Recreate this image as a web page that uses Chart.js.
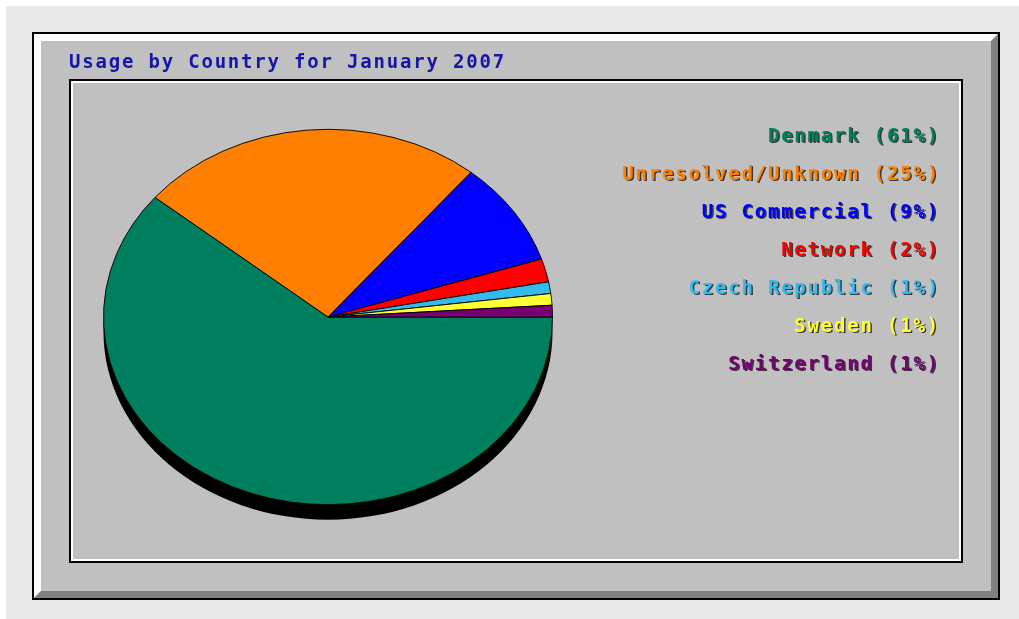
<!DOCTYPE html>
<html>
<head>
<meta charset="utf-8">
<title>Usage by Country for January 2007</title>
<script src="https://cdn.jsdelivr.net/npm/chart.js@4.4.1/dist/chart.umd.min.js"></script>
<style>
    html, body { margin: 0; padding: 0; background: #fff; }
    canvas { display: block; }
</style>
</head>
<body>
<canvas id="countryChart" width="1019" height="619"></canvas>
<script>
// Chart data
const chartTitle = 'Usage by Country for January 2007';
const countries = ['Denmark', 'Unresolved/Unknown', 'US Commercial', 'Network', 'Czech Republic', 'Sweden', 'Switzerland'];
const percents = [61, 25, 9, 2, 1, 1, 1];
const sliceColors = ['#007f5f', '#ff8000', '#0000ff', '#ff0000', '#33bbee', '#ffff33', '#770077'];

// Look & feel
const FONT = 'DejaVu Sans Mono';
const SQUASH = 0.836;     // the pie is drawn flattened into an ellipse
const DEPTH = 15;         // black 3d edge under the pie
const SPACING = '1.8px';  // wide bitmap-like lettering

function fillPoly(ctx, pts, color) {
    ctx.fillStyle = color;
    ctx.beginPath();
    pts.forEach(([x, y], i) => i ? ctx.lineTo(x, y) : ctx.moveTo(x, y));
    ctx.closePath();
    ctx.fill();
}

// Webalizer style panel, flattened pie with a 3d edge
const webalizerPlugin = {
    id: 'webalizer',
    afterInit(chart) {
        // legend text gets a dark drop shadow, the title does not
        const legend = chart.legend;
        const drawLegend = legend.draw.bind(legend);
        legend.draw = (area) => {
            const ctx = chart.ctx;
            ctx.save();
            ctx.shadowColor = 'rgba(0, 0, 0, 0.7)';
            ctx.shadowOffsetX = 1.5;
            ctx.shadowOffsetY = 1.5;
            ctx.shadowBlur = 0;
            drawLegend(area);
            ctx.restore();
        };
    },
    beforeUpdate(chart) {
        chart.ctx.letterSpacing = SPACING;
    },
    beforeDraw(chart) {
        const { ctx, width, height } = chart;
        ctx.save();
        ctx.fillStyle = '#fff';
        ctx.fillRect(0, 0, width, height);
        ctx.fillStyle = '#e9e9e9';
        ctx.fillRect(6, 6, width - 6, height - 6);

        // outer raised panel
        const x1 = 33, y1 = 33, x2 = 999, y2 = 599, b = 8;
        ctx.fillStyle = '#c0c0c0';
        ctx.fillRect(x1, y1, x2 - x1, y2 - y1);
        fillPoly(ctx, [[x1, y1], [x2, y1], [x2 - b, y1 + b], [x1 + b, y1 + b], [x1 + b, y2 - b], [x1, y2]], '#ffffff');
        fillPoly(ctx, [[x2, y1], [x2, y2], [x1, y2], [x1 + b, y2 - b], [x2 - b, y2 - b], [x2 - b, y1 + b]], '#808080');
        ctx.strokeStyle = '#000';
        ctx.lineWidth = 2;
        ctx.strokeRect(x1, y1, x2 - x1, y2 - y1);

        // inner sunken frame
        ctx.strokeStyle = '#000';
        ctx.strokeRect(70, 80, 892, 482);
        ctx.strokeStyle = '#fff';
        ctx.strokeRect(72, 82, 888, 478);
        ctx.restore();
        ctx.letterSpacing = SPACING;
    },
    beforeDatasetsDraw(chart) {
        const ctx = chart.ctx;
        const arc = chart.getDatasetMeta(0).data[0];
        if (!arc) return;
        ctx.save();
        ctx.fillStyle = '#000';
        ctx.beginPath();
        ctx.ellipse(arc.x, arc.y + DEPTH, arc.outerRadius, arc.outerRadius * SQUASH, 0, 0, Math.PI * 2);
        ctx.fill();
        ctx.restore();

        ctx.save();
        ctx.translate(arc.x, arc.y);
        ctx.scale(1, SQUASH);
        ctx.translate(-arc.x, -arc.y);
    },
    afterDatasetsDraw(chart) {
        chart.ctx.restore();
    }
};

const ctx = document.getElementById('countryChart');
new Chart(ctx, {
    type: 'pie',
    data: {
        labels: countries,
        datasets: [{
            data: percents,
            backgroundColor: sliceColors,
            borderColor: '#000',
            borderWidth: 1,
            hoverOffset: 0
        }]
    },
    options: {
        responsive: false,
        devicePixelRatio: 1,
        animation: false,
        events: [],
        rotation: 90,
        layout: { padding: { left: 69, right: 79, top: 0, bottom: 77 } },
        plugins: {
            tooltip: { enabled: false },
            title: {
                display: true,
                text: chartTitle,
                align: 'start',
                color: '#1616a8',
                font: { family: FONT, size: 19, weight: 'bold', lineHeight: 1.2 },
                padding: { top: 51.6, bottom: 17.6 }
            },
            legend: {
                position: 'right',
                align: 'start',
                fullSize: false,
                maxWidth: 353,
                title: { display: true, text: '', font: { size: 12, lineHeight: 1.2 }, padding: { top: 2, bottom: 0 } },
                labels: {
                    boxWidth: 40,
                    boxHeight: 19,
                    padding: 19,
                    textAlign: 'right',
                    font: { family: FONT, size: 19, weight: 'bold' },
                    generateLabels: (chart) => {
                        const ds = chart.data.datasets[0];
                        const total = ds.data.reduce((a, v) => a + v, 0);
                        return chart.data.labels.map((label, i) => ({
                            text: `${label} (${Math.round(ds.data[i] / total * 100)}%)`,
                            fontColor: ds.backgroundColor[i],
                            fillStyle: 'rgba(0,0,0,0)',
                            strokeStyle: 'rgba(0,0,0,0)',
                            lineWidth: 0,
                            hidden: false,
                            index: i,
                            textAlign: 'right'
                        }));
                    }
                }
            }
        }
    },
    plugins: [webalizerPlugin]
});
</script>
</body>
</html>
